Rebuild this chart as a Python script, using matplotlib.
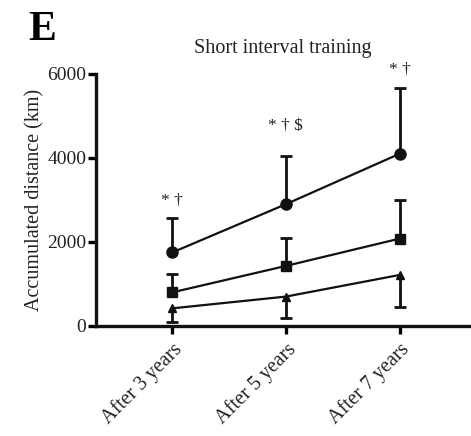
import numpy as np
import matplotlib
matplotlib.use("Agg")
import matplotlib.pyplot as plt

plt.rcParams['font.family'] = ['Liberation Serif', 'DejaVu Serif']

categories = ["After 3 years", "After 5 years", "After 7 years"]

# group means and SD (km)
circle_mean = [1750, 2900, 4100]
circle_sd = [830, 1150, 1560]
square_mean = [800, 1430, 2080]
square_sd = [440, 670, 920]
triangle_mean = [420, 700, 1215]
triangle_sd = [320, 500, 755]

annotations = ["* \u2020", "* \u2020 $", "* \u2020"]
annotation_y = [2980, 4750, 6100]

yticks = [0, 2000, 4000, 6000]

fig = plt.figure(figsize=(4.71, 4.36), dpi=100)
ax = fig.add_axes([0.2038, 0.2523, 0.7942, 0.578])

x = np.arange(len(categories))
ink = "#111111"
lw_err = 2.0
cap = 9

def draw_series(mean, sd, marker, ms, up=True):
    mean = np.asarray(mean, float)
    sd = np.asarray(sd, float)
    end = mean + sd if up else mean - sd
    ax.vlines(x, mean, end, color=ink, lw=lw_err, zorder=2)
    ax.plot(x, end, ls="none", marker="_", ms=cap, mew=lw_err, color=ink, zorder=2)
    ax.plot(x, mean, color=ink, lw=1.6, marker=marker, ms=ms, zorder=3)

draw_series(circle_mean, circle_sd, "o", 8, up=True)
draw_series(square_mean, square_sd, "s", 7, up=True)
draw_series(triangle_mean, triangle_sd, "^", 6, up=False)

for xi, txt, ty in zip(x, annotations, annotation_y):
    ax.text(xi, ty, txt, ha="center", va="center", fontsize=12.5, color="#222222",
            clip_on=False)

ax.set_ylim(0, 6000)
ax.set_xlim(-0.67, 2.62)
ax.set_yticks(yticks)
ax.set_yticklabels([str(v) for v in yticks], fontsize=14, color="#222222")
ax.set_xticks(x)
ax.set_xticklabels(categories, rotation=45, ha="right", rotation_mode="anchor",
                   fontsize=14.5, color="#222222")
ax.tick_params(axis="y", length=6, width=2.4, pad=1)
ax.tick_params(axis="x", length=6, width=2.4, pad=4)

for side in ("top", "right"):
    ax.spines[side].set_visible(False)
for side in ("left", "bottom"):
    ax.spines[side].set_linewidth(2.4)
    ax.spines[side].set_color(ink)

ax.set_ylabel("Accumulated distance (km)", fontsize=14.5, color="#222222", labelpad=2)
ax.set_title("Short interval training", fontsize=14.5, color="#222222", pad=15)

fig.text(0.059, 0.975, "E", fontsize=30, fontweight="bold", va="top", ha="left")

fig.savefig("out.png", dpi=100)
